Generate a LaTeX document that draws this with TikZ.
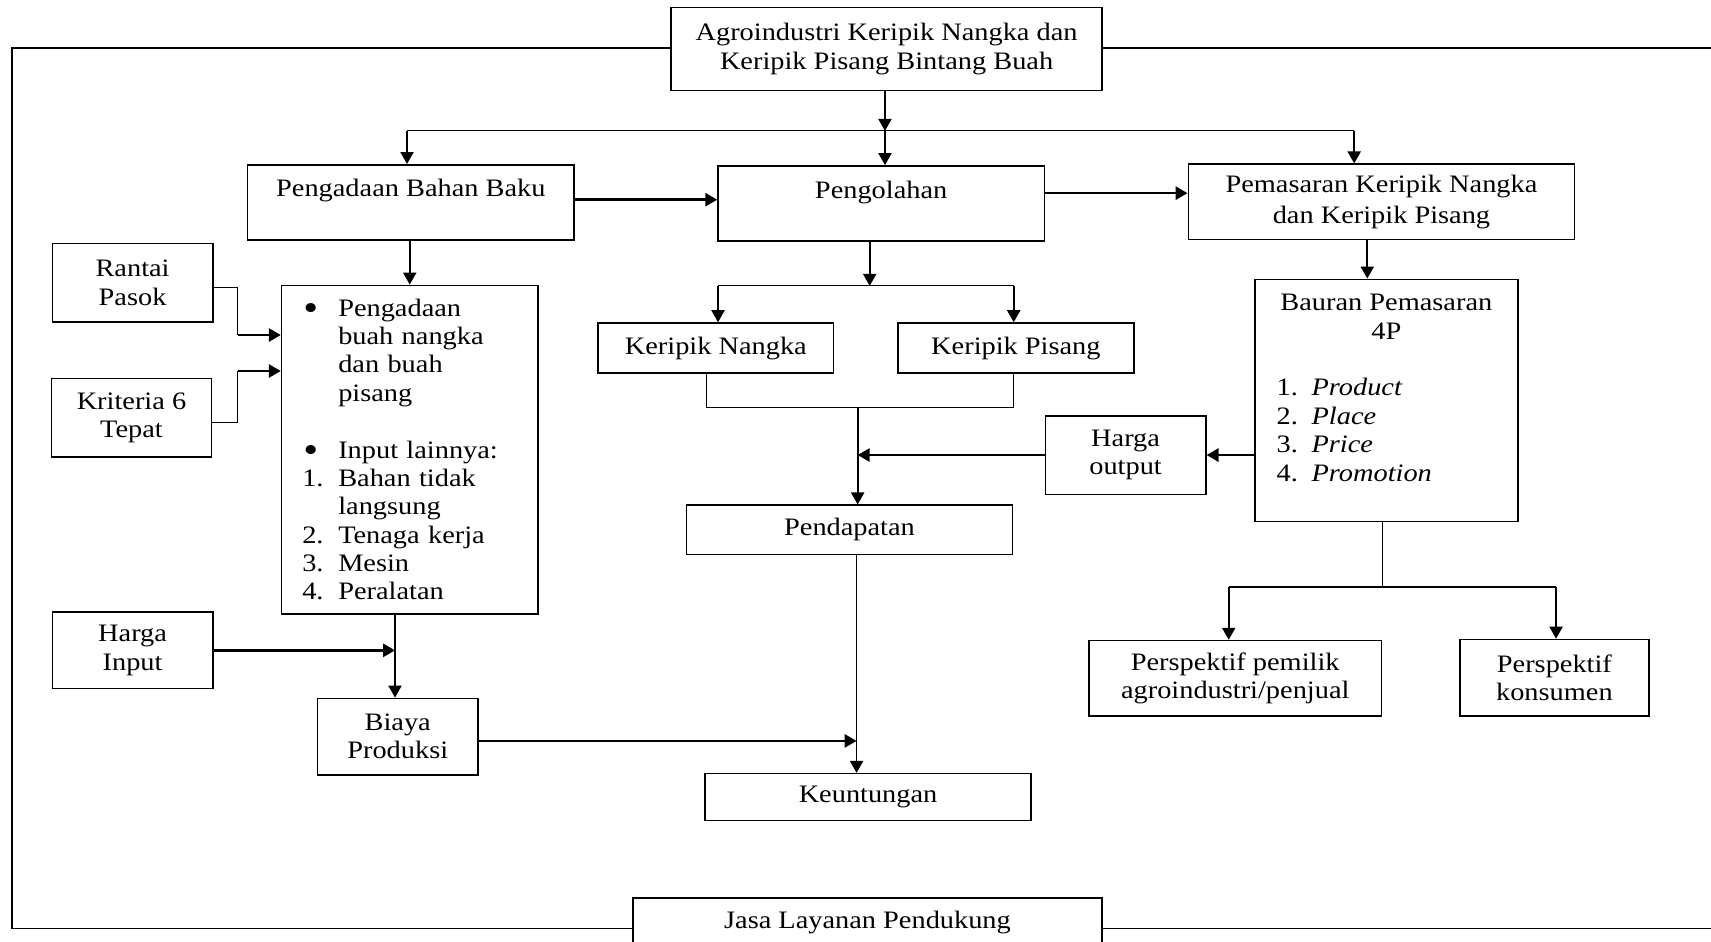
\documentclass[tikz,border=0pt]{standalone}
\usepackage{fontspec}
\setmainfont{Liberation Serif}[FakeStretch=1.13]
\usetikzlibrary{arrows.meta}
\newcommand\lit[3]{\makebox[#1][l]{#2}#3}
\newcommand\bigbul{\hspace{0.5pt}\raisebox{-2pt}{\scalebox{1.5}{•}}}
\begin{document}
\begin{tikzpicture}[x=0.5pt,y=-0.5pt,
  font=\fontsize{11.5pt}{13pt}\selectfont,
  box/.style={draw, line width=0.7pt, fill=white, inner sep=0pt, align=center},
  lbl/.style={inner sep=0pt, align=center},
  arr/.style={line width=0.8pt, -{Triangle[length=5.5pt,width=6pt]}},
  arrb/.style={line width=1.2pt, -{Triangle[length=5.5pt,width=6pt]}},
  ln/.style={line width=0.45pt}]
\useasboundingbox (0,0) rectangle (1568,863);
% outer frame
\coordinate (fTR) at (1580,44);
\coordinate (fTL) at (11,44);
\coordinate (fBL) at (11,851);
\coordinate (fBR) at (1580,851);
\draw[line width=0.6pt] (fTR) -- (fTL) -- (fBL) -- (fBR);

% boxes
\node[box, minimum width=197.5pt, minimum height=38pt] (top) at (812.5,45)
  {Agroindustri Keripik Nangka dan\\Keripik Pisang Bintang Buah};
\node[box, minimum width=149.5pt, minimum height=34.5pt] (pbb) at (376.5,185.5) {};
\node[lbl] (pbbT) at (376.5,174.5) {Pengadaan Bahan Baku};
\node[box, minimum width=149.5pt, minimum height=34.5pt] (pengolahan) at (807.5,186.5) {};
\node[lbl] (pengT) at (807.5,176.5) {Pengolahan};
\node[box, minimum width=177pt, minimum height=34.5pt] (pemasaran) at (1266,185)
  {Pemasaran Keripik Nangka\\[1pt]dan Keripik Pisang};
\node[box, minimum width=73.5pt, minimum height=36pt] (rantai) at (121.5,259) {Rantai\\Pasok};
\node[box, minimum width=73.5pt, minimum height=36pt] (kriteria) at (120.5,383) {Kriteria 6\\Tepat};
\node[box, text width=98.5pt, inner xsep=9.5pt, minimum height=150.5pt, align=left] (left) at (375.5,412)
  {\lit{16.5pt}{\bigbul}{Pengadaan}\\
   \lit{16.5pt}{}{buah nangka}\\
   \lit{16.5pt}{}{dan buah}\\
   \lit{16.5pt}{}{pisang}\\[13pt]
   \lit{16.5pt}{\bigbul}{Input lainnya:}\\
   \lit{16.5pt}{1.}{Bahan tidak}\\
   \lit{16.5pt}{}{langsung}\\
   \lit{16.5pt}{2.}{Tenaga kerja}\\
   \lit{16.5pt}{3.}{Mesin}\\
   \lit{16.5pt}{4.}{Peralatan}};
\node[box, minimum width=73.5pt, minimum height=35pt] (hin) at (121.5,596) {Harga\\Input};
\node[box, minimum width=73.5pt, minimum height=35pt] (biaya) at (364.5,675) {Biaya\\Produksi};
\node[box, minimum width=108pt, minimum height=23pt] (kn) at (656,319) {Keripik Nangka};
\node[box, minimum width=108pt, minimum height=23pt] (kp) at (931,319) {Keripik Pisang};
\node[box, minimum width=73.5pt, minimum height=36pt] (hout) at (1031.5,417) {Harga\\output};
\node[box, minimum width=120.5pt, minimum height=111pt] (bauran) at (1270.5,367) {};
\node[lbl] (bauranT) at (1270.5,355.5)
  {Bauran Pemasaran\\4P\\[13pt]
   \makebox[100.5pt][l]{\lit{16pt}{1.}{\textit{Product}}}\\
   \makebox[100.5pt][l]{\lit{16pt}{2.}{\textit{Place}}}\\
   \makebox[100.5pt][l]{\lit{16pt}{3.}{\textit{Price}}}\\
   \makebox[100.5pt][l]{\lit{16pt}{4.}{\textit{Promotion}}}};
\node[box, minimum width=149.5pt, minimum height=22.5pt] (pend) at (778.5,485.5) {Pendapatan};
\node[box, minimum width=149.5pt, minimum height=21.5pt] (keunt) at (795.5,730.5) {Keuntungan};
\node[box, minimum width=134pt, minimum height=34.5pt] (pp) at (1132,621.5) {Perspektif pemilik\\agroindustri/penjual};
\node[box, minimum width=86.5pt, minimum height=35pt] (pk) at (1424.5,621) {Perspektif\\konsumen};
\node[box, minimum width=215pt, minimum height=22pt] (jasa) at (795,845) {Jasa Layanan Pendukung};

% junction coordinates
\coordinate (b1L) at (373,120);
\coordinate (b1M) at (811,120);
\coordinate (b1R) at (1241,120);
\coordinate (rk1) at (218,307);
\coordinate (rk2) at (218,340);
\coordinate (j1) at (362,596);
\coordinate (j2) at (785,679);
\coordinate (b2) at (797,262);
\coordinate (b2L) at (658,262);
\coordinate (b2R) at (929,262);
\coordinate (j3) at (786,373);
\coordinate (b3) at (1267,538);
\coordinate (b3L) at (1126,538);
\coordinate (b3R) at (1426,538);

% connectors
\draw[arr] (b1M |- top.south) -- (b1M);
\draw[ln] (b1L) -- (b1R);
\draw[arr] (b1L) -- (b1L |- pbb.north);
\draw[arr] (b1M) -- (b1M |- pengolahan.north);
\draw[arr] (b1R) -- (b1R |- pemasaran.north);
\draw[arrb] (pbb.east |- 0,183) -- (pengolahan.west |- 0,183);
\draw[arrb] (pengolahan.east |- 0,177) -- (pemasaran.west |- 0,177);
\draw[arr] (pbb.south -| left.north) -- (left.north);
\draw[ln] (rantai.east |- 0,263) -- (218,263) -- (rk1);
\draw[arrb] (rk1) -- (rk1 -| left.west);
\draw[ln] (kriteria.east |- 0,387) -- (218,387) -- (rk2);
\draw[arrb] (rk2) -- (rk2 -| left.west);
\draw[arrb] (hin.east) -- (hin.east -| j1);
\draw[arr] (j1 |- left.south) -- (j1 |- biaya.north);
\draw[arrb] (biaya.east |- j2) -- (j2);
\draw[arr] (b2 |- pengolahan.south) -- (b2);
\draw[ln] (b2L) -- (b2R);
\draw[arr] (b2L) -- (b2L |- kn.north);
\draw[arr] (b2R) -- (b2R |- kp.north);
\draw[ln] (647,0 |- kn.south) -- (647,373) -- (929,373) -- (929,0 |- kp.south);
\draw[arr] (j3) -- (j3 |- pend.north);
\draw[arrb] (hout.west) -- (hout.west -| j3);
\draw[arrb] (bauran.west |- hout.east) -- (hout.east);
\draw[arr] (1253,0 |- pemasaran.south) -- (1253,0 |- bauran.north);
\draw[arr] (j2 |- pend.south) -- (j2 |- keunt.north);
\draw[ln] (b3 |- bauran.south) -- (b3);
\draw[line width=0.9pt] (b3L) -- (b3R);
\draw[arr] (b3L) -- (b3L |- pp.north);
\draw[arr] (b3R) -- (b3R |- pk.north);
\end{tikzpicture}
\end{document}
